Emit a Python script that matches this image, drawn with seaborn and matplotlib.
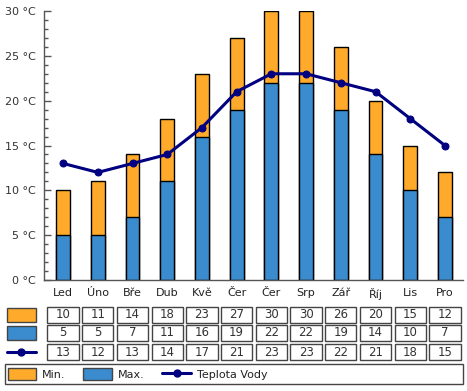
import matplotlib
matplotlib.use("Agg")
import matplotlib.pyplot as plt
import seaborn as sns
import pandas as pd
from matplotlib.patches import Rectangle
from matplotlib.lines import Line2D
from matplotlib.transforms import blended_transform_factory
from matplotlib.ticker import MultipleLocator

months = ["Led", "Úno", "Bře", "Dub", "Kvě", "Čer", "Čer", "Srp", "Zář", "Říj", "Lis", "Pro"]
orange_vals = [10, 11, 14, 18, 23, 27, 30, 30, 26, 20, 15, 12]
blue_vals = [5, 5, 7, 11, 16, 19, 22, 22, 19, 14, 10, 7]
water_vals = [13, 12, 13, 14, 17, 21, 23, 23, 22, 21, 18, 15]
series_names = ["Min.", "Max.", "Teplota Vody"]
yticks = [0, 5, 10, 15, 20, 25, 30]

ORANGE = "#FFAA2A"
BLUE = "#3A8CCF"
NAVY = "#000080"
TXT = "#333333"
EDGE = "#555555"

sns.set_theme(style="white")
plt.rcParams['font.family'] = ['DejaVu Sans']

W, H = 467, 391
fig = plt.figure(figsize=(W / 100, H / 100), dpi=100)
ax = fig.add_axes([44 / W, 111 / H, (463 - 44) / W, (380 - 111) / H])

pos = list(range(len(months)))
df = pd.DataFrame({"pos": pos, "month": months, "orange": orange_vals,
                   "blue": blue_vals, "water": water_vals})

sns.barplot(data=df, x="pos", y="orange", color=ORANGE, width=0.4,
            edgecolor="black", linewidth=1, saturation=1, ax=ax, native_scale=True)
sns.barplot(data=df, x="pos", y="blue", color=BLUE, width=0.4,
            edgecolor="black", linewidth=1, saturation=1, ax=ax, native_scale=True)
sns.lineplot(data=df, x="pos", y="water", color=NAVY, linewidth=2.2,
             marker="o", markersize=5, markeredgecolor=NAVY, ax=ax, zorder=5)

ax.set_xlim(-0.55, 11.52)
ax.set_ylim(0, 30)
ax.set_xticks(pos)
ax.set_xticklabels(months)
ax.set_yticks(yticks)
ax.set_yticklabels([f"{v} °C" for v in yticks])
ax.yaxis.set_minor_locator(MultipleLocator(1))
ax.set_xlabel("")
ax.set_ylabel("")
for s in ["top", "right"]:
    ax.spines[s].set_visible(False)
for s in ["left", "bottom"]:
    ax.spines[s].set_color(EDGE)
    ax.spines[s].set_linewidth(1)
ax.tick_params(axis="y", which="major", direction="in", length=5, width=1,
               color=EDGE, labelsize=8, labelcolor=TXT, pad=6, left=True)
ax.tick_params(axis="y", which="minor", direction="in", length=3, width=1,
               color=EDGE, left=True)
ax.tick_params(axis="x", length=0, labelsize=8, labelcolor="#222222", pad=6)

# data table below the chart
tr = blended_transform_factory(ax.transData, fig.transFigure)
row_centers = [315, 333, 352]
ch = 16
rows = [orange_vals, blue_vals, water_vals]
for r, vals in enumerate(rows):
    yc = row_centers[r]
    y0 = (H - yc - ch / 2) / H
    for i, v in enumerate(vals):
        fig.add_artist(Rectangle((i - 0.45, y0), 0.9, ch / H, transform=tr,
                                 facecolor="white", edgecolor="#444444", lw=1))
        fig.text(i, (H - yc) / H, str(v), transform=tr, ha="center", va="center",
                 fontsize=8.5, color=TXT)

# row keys
for r, col in enumerate([ORANGE, BLUE]):
    yc = row_centers[r]
    fig.add_artist(Rectangle((7 / W, (H - yc - 7) / H), 29 / W, 14 / H,
                             transform=fig.transFigure, facecolor=col,
                             edgecolor="#444444", lw=1))
fig.add_artist(Line2D([7 / W, 36 / W], [(H - row_centers[2]) / H] * 2,
                      transform=fig.transFigure, color=NAVY, lw=2.2))
fig.add_artist(Line2D([21 / W], [(H - row_centers[2]) / H], transform=fig.transFigure,
                      color=NAVY, marker="o", markersize=5))

# legend box
fig.add_artist(Rectangle((5 / W, 7 / H), 458 / W, 20 / H, transform=fig.transFigure,
                         facecolor="white", edgecolor="#444444", lw=1))
handles = [Rectangle((0, 0), 1, 1, facecolor=ORANGE, edgecolor="#444444", lw=1),
           Rectangle((0, 0), 1, 1, facecolor=BLUE, edgecolor="#444444", lw=1),
           Line2D([], [], color=NAVY, lw=2.2, marker="o", markersize=5)]
leg = fig.legend(handles, series_names, loc="center left",
                 bbox_to_anchor=(2 / W, 17 / H), ncol=3, frameon=False,
                 fontsize=8, handlelength=2.6, handleheight=1.3,
                 handletextpad=0.5, columnspacing=1.6, borderpad=0)
for t in leg.get_texts():
    t.set_color("#222222")

fig.savefig("out.png", dpi=100)
